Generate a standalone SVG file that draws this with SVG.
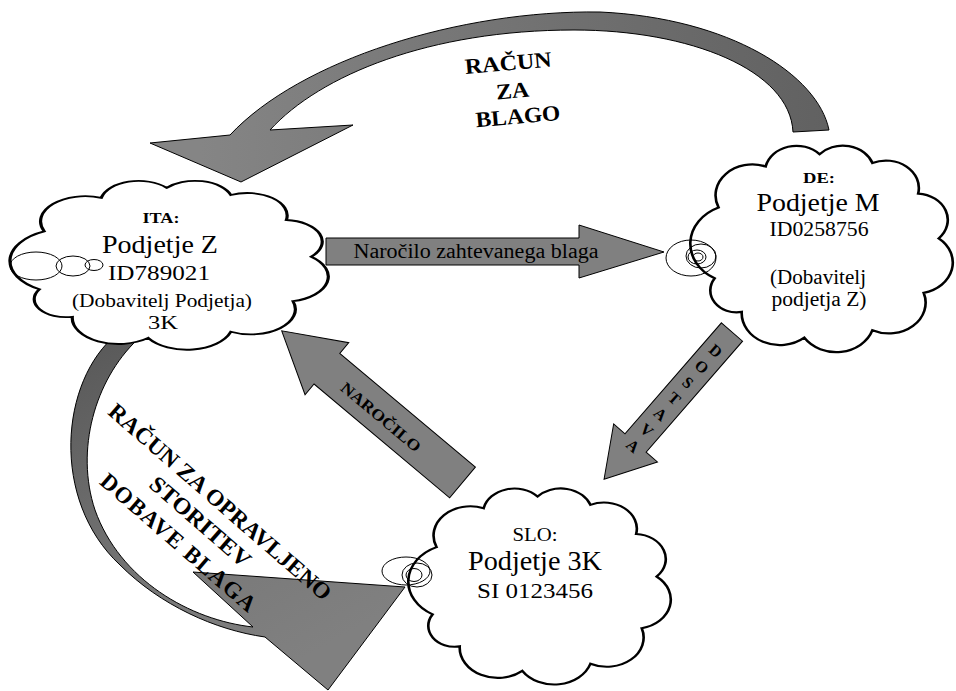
<svg xmlns="http://www.w3.org/2000/svg" width="956" height="691" viewBox="0 0 956 691">
<defs>
<linearGradient id="gTop" gradientUnits="userSpaceOnUse" x1="200" y1="0" x2="830" y2="0">
<stop offset="0" stop-color="#858585"/><stop offset="1" stop-color="#616161"/>
</linearGradient>
<linearGradient id="gLeft" gradientUnits="userSpaceOnUse" x1="120" y1="335" x2="300" y2="660">
<stop offset="0" stop-color="#5a5a5a"/><stop offset="0.7" stop-color="#7a7a7a"/><stop offset="1" stop-color="#808080"/>
</linearGradient>
<path id="cloud" d="M8.6,64.4 A18,18 0 0 1 10.1,32.2 A14,14 0 0 1 28,13.6 A12,12 0 0 1 48.5,8 A12,12 0 0 1 68.6,12 A12.5,12.5 0 0 1 86,25.9 A12,12 0 0 1 93.8,46.3 A14,14 0 0 1 88.1,71 A14,14 0 0 1 68.6,88 A14.5,14.5 0 0 1 42.7,91.4 A14.5,14.5 0 0 1 18.9,79.7 A10,10 0 0 1 8.6,64.4 Z"/>
</defs>
<style>
.arrow{stroke:#000;stroke-width:1;stroke-linejoin:miter}
.grey{fill:#808080}
.cloud{fill:#fff;stroke:#000;stroke-width:1;vector-effect:non-scaling-stroke}
.tail{fill:none;stroke:#000;stroke-width:1}
.t{font-family:"Liberation Serif","Times New Roman",serif;fill:#000;text-anchor:middle}
.b{font-weight:bold}
</style>
<rect width="956" height="691" fill="#fff"/>
<g id="connectors">
<path id="arrow-racun-za-blago" class="arrow" fill="url(#gTop)" d="M829,130 C818,75 730,18 600,12 C460,10 300,60 230,135 L150,143 L241,182 L353,125 L270,130 C320,75 430,30 574,30 C690,30 790,70 793,132 Z"/>
<path id="arrow-racun-storitev" class="arrow" fill="url(#gLeft)" d="M117,334 C60,380 50,500 120,565 C160,605 215,630 265,637 L328,690 L405,587 L193,572 L253,627 C190,620 120,580 95,510 C75,450 95,380 137,340 Z"/>
<polygon id="arrow-narocilo" class="arrow grey" transform="translate(462.5,482.5) rotate(130)" points="-20,0 20,0 20,177 34,177 0,236 -34,177 -20,177"/>
<polygon id="arrow-dostava" class="arrow grey" transform="translate(732,332) rotate(41)" points="-14,0 14,0 14,147 29,147 0,195 -29,147 -14,147"/>
<polygon id="arrow-zahteva" class="arrow grey" points="326,238 579,238 579,225 664,252 579,278 579,265 326,265"/>
<g id="labels">
<g transform="rotate(-5,513,95)">
<text class="t b" x="511" y="70" font-size="22" textLength="87" lengthAdjust="spacingAndGlyphs">RAČUN</text>
<text class="t b" x="513" y="98" font-size="22" textLength="33" lengthAdjust="spacingAndGlyphs">ZA</text>
<text class="t b" x="516" y="124" font-size="22" textLength="85" lengthAdjust="spacingAndGlyphs">BLAGO</text>
</g>
<g transform="translate(220,502) rotate(41)">
<text class="t b" x="0" y="0" dominant-baseline="central" font-size="23" textLength="287" lengthAdjust="spacingAndGlyphs">RAČUN ZA OPRAVLJENO</text>
<text class="t b" x="-2" y="28" dominant-baseline="central" font-size="23" textLength="126" lengthAdjust="spacingAndGlyphs">STORITEV</text>
<text class="t b" x="-5" y="58" dominant-baseline="central" font-size="23" textLength="198" lengthAdjust="spacing">DOBAVE BLAGA</text>
</g>
<text class="t b" transform="translate(381,417) rotate(40)" dominant-baseline="central" font-size="16" textLength="99" lengthAdjust="spacingAndGlyphs">NAROČILO</text>
<g transform="translate(732,332) rotate(41)" class="t b" font-size="16">
<text x="0" y="25" dominant-baseline="central">D</text>
<text x="0" y="46" dominant-baseline="central">O</text>
<text x="0" y="67" dominant-baseline="central">S</text>
<text x="0" y="88" dominant-baseline="central">T</text>
<text x="0" y="109" dominant-baseline="central">A</text>
<text x="0" y="130" dominant-baseline="central">V</text>
<text x="0" y="151" dominant-baseline="central">A</text>
</g>
<text class="t" x="476" y="258" font-size="20" textLength="245" lengthAdjust="spacingAndGlyphs">Naročilo zahtevanega blaga</text>
</g>
</g>
<g id="node-ita">
<use href="#cloud" class="cloud" transform="translate(12,173.4) scale(3.19,1.8)"/>
<ellipse class="tail" cx="36" cy="266" rx="26" ry="14"/>
<ellipse class="tail" cx="73" cy="266" rx="17" ry="10"/>
<ellipse class="tail" cx="94" cy="265" rx="9" ry="5.5"/>
<text class="t b" x="161" y="223" font-size="14" textLength="37" lengthAdjust="spacingAndGlyphs">ITA:</text>
<text class="t" x="160" y="253" font-size="25" textLength="116" lengthAdjust="spacingAndGlyphs">Podjetje Z</text>
<text class="t" x="159" y="280" font-size="21" textLength="102" lengthAdjust="spacingAndGlyphs">ID789021</text>
<text class="t" x="162" y="307" font-size="18.5" textLength="180" lengthAdjust="spacingAndGlyphs">(Dobavitelj Podjetja)</text>
<text class="t" x="163" y="329" font-size="18.5" textLength="30" lengthAdjust="spacingAndGlyphs">3K</text>
</g>
<g id="node-de">
<use href="#cloud" class="cloud" transform="translate(692,136.6) scale(2.63,2.2)"/>
<ellipse class="tail" cx="691" cy="258" rx="25" ry="18"/>
<ellipse class="tail" cx="701" cy="256" rx="15" ry="12"/>
<ellipse class="tail" cx="697" cy="257" rx="9" ry="7"/>
<ellipse class="tail" cx="698" cy="257" rx="5" ry="4"/>
<text class="t b" x="819" y="183" font-size="14" textLength="32" lengthAdjust="spacingAndGlyphs">DE:</text>
<text class="t" x="818" y="211" font-size="25" textLength="123" lengthAdjust="spacingAndGlyphs">Podjetje M</text>
<text class="t" x="819" y="236" font-size="20" textLength="99" lengthAdjust="spacingAndGlyphs">ID0258756</text>
<text class="t" x="818" y="284" font-size="20" textLength="96" lengthAdjust="spacingAndGlyphs">(Dobavitelj</text>
<text class="t" x="819" y="306" font-size="20" textLength="95" lengthAdjust="spacingAndGlyphs">podjetja Z)</text>
</g>
<g id="node-slo">
<use href="#cloud" class="cloud" transform="translate(410,479.8) scale(2.63,2.09)"/>
<ellipse class="tail" cx="406" cy="571" rx="24" ry="14"/>
<ellipse class="tail" cx="417" cy="575" rx="15" ry="12"/>
<ellipse class="tail" cx="414" cy="575" rx="8" ry="6.5"/>
<text class="t" x="535" y="541" font-size="19" textLength="45" lengthAdjust="spacingAndGlyphs">SLO:</text>
<text class="t" x="535" y="570" font-size="27" textLength="134" lengthAdjust="spacingAndGlyphs">Podjetje 3K</text>
<text class="t" x="535" y="598" font-size="22" textLength="116" lengthAdjust="spacingAndGlyphs">SI 0123456</text>
</g>
</svg>
